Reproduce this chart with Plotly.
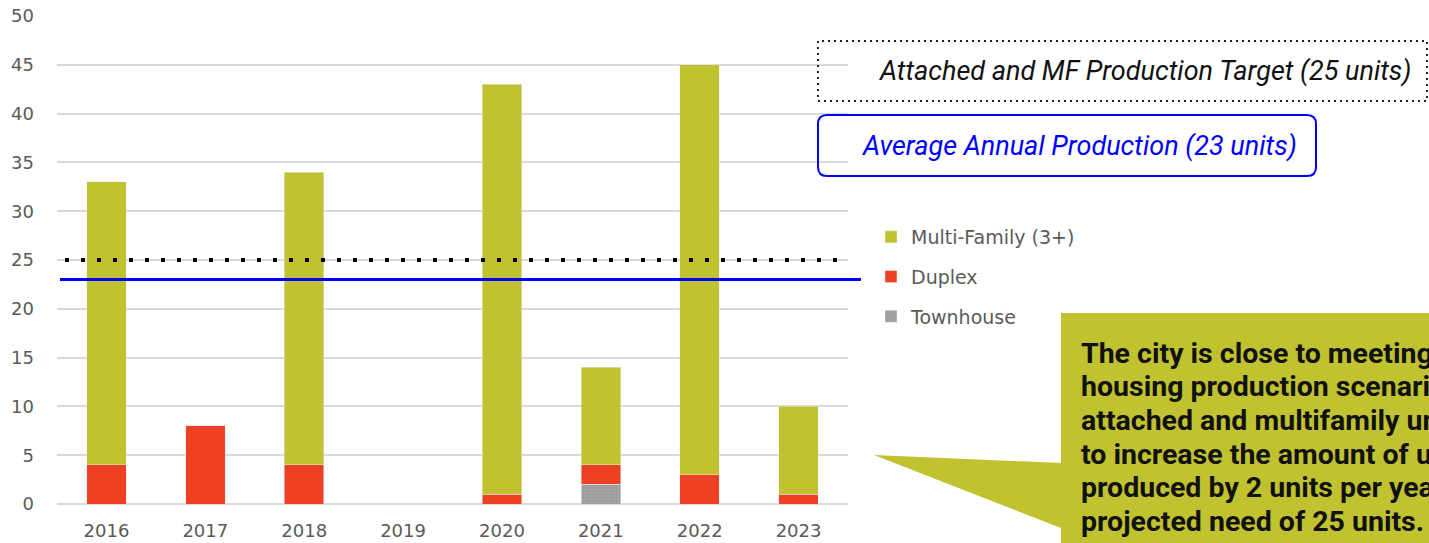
import plotly.graph_objects as go

# Annual housing production by type
years = ["2016", "2017", "2018", "2019", "2020", "2021", "2022", "2023"]
townhouse = [0, 0, 0, 0, 0, 2, 0, 0]
duplex = [4, 8, 4, 0, 1, 2, 3, 1]
multi_family = [29, 0, 30, 0, 42, 10, 42, 9]

target_units = 25
average_units = 23

y_ticks = [0, 5, 10, 15, 20, 25, 30, 35, 40, 45, 50]

OLIVE = "#C0C22F"
RED = "#EE4123"
GREY = "#A3A3A3"
BLUE = "#0000FF"
TEXT_GREY = "#5A5A5A"

W, H = 1429, 543
ML, MR, MT, MB = 57, 581, 16, 39
PW, PH = W - ML - MR, H - MT - MB


def px(x):
    """Pixel column -> paper x."""
    return (x - ML) / PW


def py(y):
    """Pixel row -> paper y."""
    return (H - MB - y) / PH


fig = go.Figure()
fig.add_bar(x=years, y=townhouse, name="Townhouse",
            marker=dict(color=GREY,
                        pattern=dict(shape=".", fgcolor="#8C8C8C",
                                     size=3, solidity=0.35)),
            legendgroup="townhouse", legendrank=3)
fig.add_bar(x=years, y=duplex, name="Duplex", marker_color=RED,
            legendgroup="duplex", legendrank=2)
fig.add_bar(x=years, y=multi_family, name="Multi-Family (3+)",
            marker_color=OLIVE, legendgroup="mf", legendrank=1)

shapes = []
# Production target (dotted) and average production (solid blue)
shapes.append(dict(type="line", xref="paper", yref="y",
                   x0=px(65), x1=1.0, y0=target_units, y1=target_units,
                   line=dict(color="black", width=4, dash="4px,12px")))
shapes.append(dict(type="line", xref="paper", yref="y",
                   x0=px(60), x1=px(861), y0=average_units, y1=average_units,
                   line=dict(color=BLUE, width=3)))

# Dotted label box for the target
shapes.append(dict(type="rect", xref="paper", yref="paper",
                   x0=px(818), x1=px(1427), y0=py(101), y1=py(41),
                   line=dict(color="#222222", width=2, dash="2px,4px")))


def rounded_rect(x0, y0, x1, y1, r):
    ax0, ax1 = px(x0), px(x1)
    ay0, ay1 = py(y1), py(y0)  # bottom, top in paper
    rx, ry = r / PW, r / PH
    return (f"M {ax0 + rx},{ay1} L {ax1 - rx},{ay1} Q {ax1},{ay1} {ax1},{ay1 - ry} "
            f"L {ax1},{ay0 + ry} Q {ax1},{ay0} {ax1 - rx},{ay0} "
            f"L {ax0 + rx},{ay0} Q {ax0},{ay0} {ax0},{ay0 + ry} "
            f"L {ax0},{ay1 - ry} Q {ax0},{ay1} {ax0 + rx},{ay1} Z")


shapes.append(dict(type="path", xref="paper", yref="paper",
                   path=rounded_rect(818, 115, 1316, 176, 9),
                   line=dict(color=BLUE, width=2)))

# Callout bubble with pointer
pts = [(1061, 313), (1445, 313), (1445, 560), (1061, 560), (1061, 528),
       (874, 455), (1061, 463)]
path = "M " + " L ".join(f"{px(a)},{py(b)}" for a, b in pts) + " Z"
shapes.append(dict(type="path", xref="paper", yref="paper", path=path,
                   fillcolor=OLIVE, line=dict(width=0)))

annotations = [
    dict(xref="paper", yref="paper", x=px(1144), y=py(71),
         text="<i>Attached and MF Production Target (25 units)</i>",
         showarrow=False, xanchor="center", yanchor="middle",
         font=dict(family="Roboto", size=27, color="#111111")),
    dict(xref="paper", yref="paper", x=px(1079), y=py(146),
         text="<i>Average Annual Production (23 units)</i>",
         showarrow=False, xanchor="center", yanchor="middle",
         font=dict(family="Roboto", size=27, color=BLUE)),
]

callout_lines = [
    "The city is close to meeting its",
    "housing production scenario for",
    "attached and multifamily units. It needs",
    "to increase the amount of units",
    "produced by 2 units per year to meet its",
    "projected need of 25 units.",
]
for i, line in enumerate(callout_lines):
    annotations.append(dict(
        xref="paper", yref="paper", x=px(1079), y=py(353 + 33.7 * i),
        text=f"<b>{line}</b>", showarrow=False, xanchor="left",
        yanchor="middle",
        font=dict(family="Roboto", size=28.5, color="#111111")))

fig.update_layout(
    width=W, height=H,
    margin=dict(l=ML, r=MR, t=MT, b=MB, pad=0, autoexpand=False),
    barmode="stack", bargap=0.6,
    plot_bgcolor="white", paper_bgcolor="white",
    font=dict(family="DejaVu Sans", color=TEXT_GREY),
    shapes=shapes, annotations=annotations,
    legend=dict(x=px(871), y=py(218), xanchor="left", yanchor="top",
                traceorder="grouped", tracegroupgap=12,
                font=dict(size=19, color=TEXT_GREY),
                itemwidth=30, bgcolor="rgba(0,0,0,0)"),
    xaxis=dict(showline=False, ticks="", tickfont=dict(size=18),
               ticklabelstandoff=14, automargin=False),
    yaxis=dict(range=[0, 50], tickvals=y_ticks, showgrid=True,
               gridcolor="#D9D9D9", gridwidth=2, zeroline=True,
               zerolinecolor="#D9D9D9", zerolinewidth=2,
               tickfont=dict(size=18), ticklabelstandoff=22,
               automargin=False),
)

fig.write_html("out.html")
